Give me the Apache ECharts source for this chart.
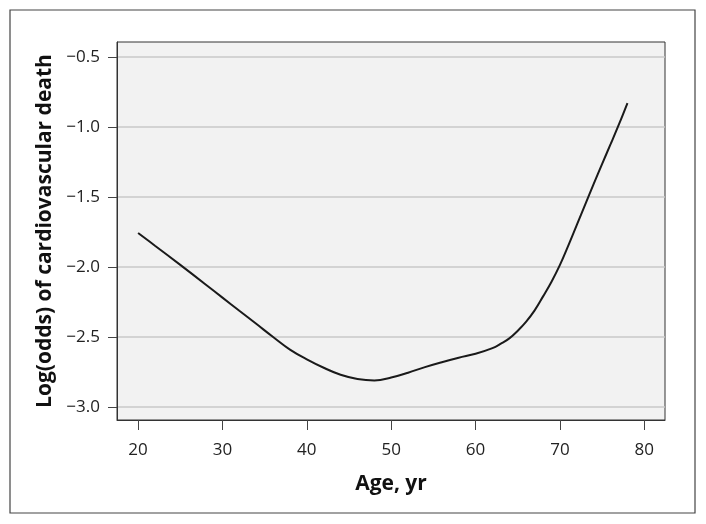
<!DOCTYPE html>
<html>
<head>
<meta charset="utf-8">
<script src="https://cdn.jsdelivr.net/npm/echarts@6/dist/echarts.min.js"></script>
<style>
  html, body { margin: 0; padding: 0; background: #fff; }
  #main { width: 706px; height: 524px; }
</style>
</head>
<body>
<div id="main"></div>
<script>
// age (yr) and fitted log(odds)
var ages = [20, 22, 25, 28, 30, 32, 34, 36, 38, 40, 42, 44, 46, 48, 50, 52, 54, 56, 58, 60, 62, 63, 64, 65, 66, 67, 68, 69, 70, 71, 72, 73, 74, 75, 76, 77, 78]
var logOdds = [-1.757, -1.848, -1.985, -2.125, -2.219, -2.313, -2.406, -2.5, -2.59, -2.66, -2.72, -2.77, -2.80, -2.81, -2.79, -2.755, -2.715, -2.68, -2.648, -2.62, -2.58, -2.548, -2.51, -2.455, -2.39, -2.31, -2.21, -2.105, -1.985, -1.845, -1.7, -1.552, -1.406, -1.263, -1.123, -0.98, -0.829]
var xTicks = [20, 30, 40, 50, 60, 70, 80]
var yTicks = [-3.0, -2.5, -2.0, -1.5, -1.0, -0.5]

var chart = echarts.init(document.getElementById('main'))

var fontFam = '"Open Sans", "Noto Sans", sans-serif'
function minus(v) {
  return String(v).replace('-', '\u2212')
}

var option = {
  animation: false,
  backgroundColor: '#fff',
  graphic: [{
    type: 'rect',
    shape: { x: 10, y: 10, width: 685, height: 503 },
    style: { fill: 'none', stroke: '#444', lineWidth: 1.2 },
    z: 0
  }],
  grid: {
    left: 117,
    top: 42,
    right: 41,
    bottom: 104,
    show: true,
    backgroundColor: '#f2f2f2',
    borderColor: '#333',
    borderWidth: 1
  },
  xAxis: {
    type: 'value',
    min: 17.5,
    max: 82.45,
    name: 'Age, yr',
    nameLocation: 'middle',
    nameGap: 54,
    nameTextStyle: { fontFamily: fontFam, fontWeight: 'bold', fontSize: 21, color: '#111' },
    axisLine: { show: true, lineStyle: { color: '#333', width: 1 } },
    axisTick: { show: true, length: 10, customValues: xTicks, lineStyle: { color: '#444' } },
    axisLabel: {
      customValues: xTicks,
      margin: 22,
      fontFamily: fontFam,
      fontSize: 17,
      color: '#222'
    },
    splitLine: { show: false }
  },
  yAxis: {
    type: 'value',
    min: -3.093,
    max: -0.393,
    name: 'Log(odds) of cardiovascular death',
    nameLocation: 'middle',
    nameGap: 55,
    nameTextStyle: { fontFamily: fontFam, fontWeight: 'bold', fontSize: 21, color: '#111' },
    axisLine: { show: true, lineStyle: { color: '#333', width: 1 } },
    axisTick: { show: true, length: 9, customValues: yTicks, lineStyle: { color: '#444' } },
    axisLabel: {
      customValues: yTicks,
      margin: 17,
      fontFamily: fontFam,
      fontSize: 17,
      color: '#222',
      formatter: function (v) { return minus(v.toFixed(1)) }
    },
    splitLine: { show: true, lineStyle: { color: '#c9c9c9', width: 1.5 } }
  },
  series: [{
    type: 'line',
    data: ages.map(function (a, i) { return [a, logOdds[i]] }),
    smooth: 0.4,
    showSymbol: false,
    lineStyle: { color: '#1a1a1a', width: 2 }
  }]
}

chart.setOption(option)
</script>
</body>
</html>
